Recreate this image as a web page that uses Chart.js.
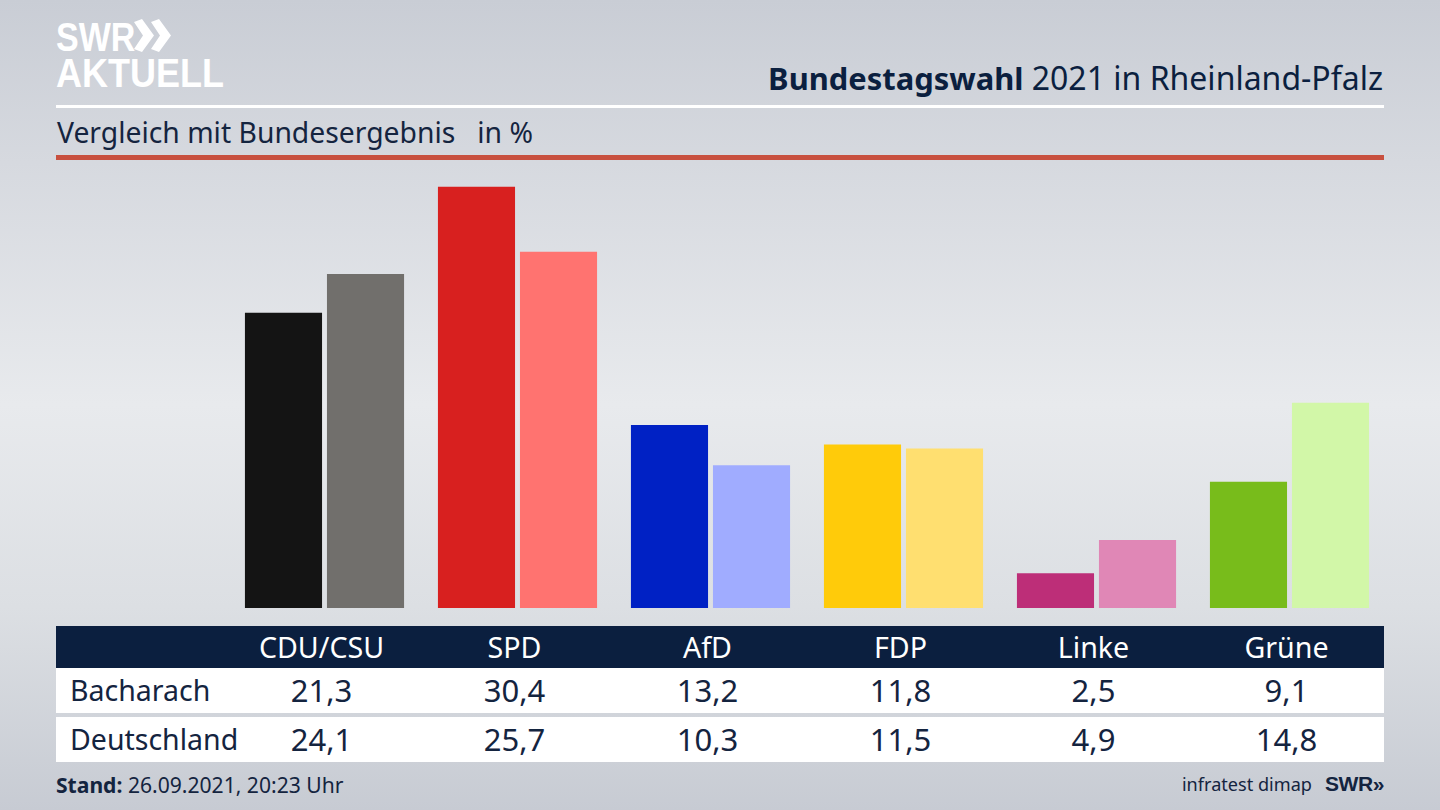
<!DOCTYPE html>
<html lang="de">
<head>
<meta charset="utf-8">
<title>Bundestagswahl 2021</title>
<script src="https://cdn.jsdelivr.net/npm/chart.js@4"></script>
<style>
    html, body { margin: 0; padding: 0; }
    body {
        width: 1440px; height: 810px; overflow: hidden; position: relative;
        font-family: 'Noto Sans', sans-serif; color: #0b1f3f;
        background: linear-gradient(180deg, #c9cdd5 0%, #d6d9df 20%, #e8eaed 50%, #dcdfe3 75%, #c7cbd3 100%);
    }
    .abs { position: absolute; white-space: nowrap; }
    #logo-swr, #logo-aktuell { color: #fff; font-weight: 700; font-family: 'Liberation Sans', sans-serif; transform-origin: 0 0; }
    #logo-swr { left: 56px; top: 16px; font-size: 34px; line-height: 34px; transform: scaleY(1.22); }
    #logo-aktuell { left: 56px; top: 53px; font-size: 36px; line-height: 36px; transform: scaleY(1.12); }
    #logo-arrows { left: 134px; top: 19px; }
    #title { right: 57px; top: 57px; font-size: 32px; line-height: 42px; }
    #title b { font-size: 30.9px; }
    #rule1 { left: 56px; top: 105px; width: 1328px; height: 3px; background: #fff; }
    #subtitle { left: 57px; top: 113px; font-size: 28.3px; line-height: 38px; color: #14243f; }
    #rule2 { left: 56px; top: 155px; width: 1328px; height: 5px; background: #c8503f; }
    #chart-box { left: 228px; top: 170px; width: 1158px; height: 438px; }
    #stand { left: 56px; top: 771px; font-size: 21.1px; line-height: 28px; color: #14243f; }
    #source { right: 56px; top: 770px; font-size: 18.1px; line-height: 28px; color: #14243f; }
    #source b { margin-left: 13px; font-family: 'Liberation Sans', sans-serif; font-size: 21px; letter-spacing: -0.4px; }
    .band { left: 56px; width: 1328px; }
    .cell { position: absolute; top: 0; width: 160px; text-align: center; }
    .head .cell { font-size: 28.6px; }
    .num .cell { font-size: 31px; }
    .num .cell.first { font-size: 28.5px; }
</style>
</head>
<body>
<div class="abs" id="logo-swr">SWR</div>
<svg class="abs" id="logo-arrows" width="37" height="33" viewBox="0 0 37 33" aria-hidden="true">
    <polygon points="0,3 8,0 20,16.5 8,33 0,30 9,16.5" fill="#fff"/>
    <polygon points="17,3 25,0 37,16.5 25,33 17,30 26,16.5" fill="#fff"/>
</svg>
<div class="abs" id="logo-aktuell">AKTUELL</div>
<div class="abs" id="title"><b>Bundestagswahl</b> 2021 in Rheinland-Pfalz</div>
<div class="abs" id="rule1"></div>
<div class="abs" id="subtitle">Vergleich mit Bundesergebnis &nbsp; in %</div>
<div class="abs" id="rule2"></div>
<div class="abs" id="chart-box"><canvas id="chart-bars"></canvas></div>
<div id="table"></div>
<div class="abs" id="stand"><b>Stand:</b> 26.09.2021, 20:23 Uhr</div>
<div class="abs" id="source">infratest dimap<b>SWR»</b></div>
<script>
// Werte aus dem Bild
const PARTIES = ['CDU/CSU', 'SPD', 'AfD', 'FDP', 'Linke', 'Grüne'];
const BACHARACH = [21.3, 30.4, 13.2, 11.8, 2.5, 9.1];
const DEUTSCHLAND = [24.1, 25.7, 10.3, 11.5, 4.9, 14.8];
const BACHARACH_LABELS = ['21,3', '30,4', '13,2', '11,8', '2,5', '9,1'];
const DEUTSCHLAND_LABELS = ['24,1', '25,7', '10,3', '11,5', '4,9', '14,8'];
const COLORS_STRONG = ['#141414', '#d8201f', '#0021c4', '#ffcb0a', '#bd2e78', '#78bc1b'];
const COLORS_LIGHT = ['#716f6c', '#ff7370', '#a0acff', '#ffdf70', '#e087b6', '#d2f7a8'];

// --- TABELLE ---

function addRow(kind, top, height, background, color, first, values) {
    const row = document.createElement('div');
    row.className = 'abs band ' + kind;
    row.style.top = top + 'px';
    row.style.height = height + 'px';
    row.style.lineHeight = height + 'px';
    row.style.background = background;
    row.style.color = color;

    const head = document.createElement('div');
    head.className = 'cell first';
    head.style.left = '14px';
    head.style.textAlign = 'left';
    head.textContent = first;
    row.appendChild(head);

    values.forEach((v, i) => {
        const cell = document.createElement('div');
        cell.className = 'cell';
        cell.style.left = (185.5 + i * 193) + 'px';
        cell.textContent = v;
        row.appendChild(cell);
    });
    document.getElementById('table').appendChild(row);
}

addRow('head', 626, 42, '#0b1f3f', '#fff', '', PARTIES);
addRow('num', 668, 45, '#fff', '#14243f', 'Bacharach', BACHARACH_LABELS);
addRow('num', 717, 45, '#fff', '#14243f', 'Deutschland', DEUTSCHLAND_LABELS);

// --- DIAGRAMM ---

new Chart(document.getElementById('chart-bars'), {
    type: 'bar',
    data: {
        labels: PARTIES,
        datasets: [
            { label: 'Bacharach', data: BACHARACH, backgroundColor: COLORS_STRONG },
            { label: 'Deutschland', data: DEUTSCHLAND, backgroundColor: COLORS_LIGHT }
        ]
    },
    options: {
        responsive: true,
        maintainAspectRatio: false,
        animation: false,
        layout: { padding: 0 },
        datasets: { bar: { barPercentage: 0.94, categoryPercentage: 0.85 } },
        plugins: { legend: { display: false }, tooltip: { enabled: false } },
        scales: {
            x: { display: false },
            y: { display: false, min: 0, max: 31.6 }
        }
    }
});
</script>
</body>
</html>
